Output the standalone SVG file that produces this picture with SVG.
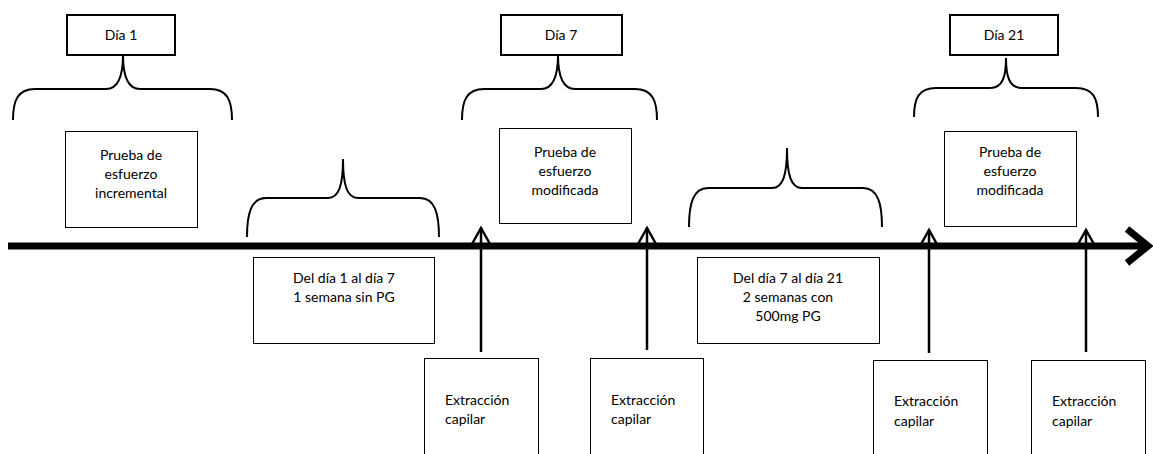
<svg xmlns="http://www.w3.org/2000/svg" width="1153" height="454" viewBox="0 0 1153 454">
<style>
.day{fill:#fff;stroke:#000;stroke-width:2}
.box{fill:#fff;stroke:#000;stroke-width:1}
.brace{fill:none;stroke:#000;stroke-width:2}
.t{font-family:Lato,"Liberation Sans",sans-serif;font-size:14px;fill:#000}
.c{text-anchor:middle}
.arr{fill:none;stroke:#000;stroke-width:2.5}
.tl{fill:none;stroke:#000;stroke-width:7}
</style>
<rect width="1153" height="454" fill="#fff"/>
<g id="connectors">
<line class="tl" x1="8" y1="246" x2="1146" y2="246"/>
<path class="tl" d="M1127,229 L1148,246 L1127,263" stroke-linejoin="miter"/>
<path class="brace" d="M13,120 C13,100 18,89 35,89 L106,89 C119,89 123,75 123,55 C123,75 127,89 140,89 L210,89 C227,89 232,100 232,120"/>
<path class="brace" d="M247,237 C247,214 251,198 266,198 L328,198 C339,198 343,185 343,159 C343,185 347,198 358,198 L420,198 C435,198 439,214 439,237"/>
<path class="brace" d="M462,120 C462,100 467,89 484,89 L541,89 C554,89 558,75 558,55 C558,75 562,89 575,89 L635,89 C652,89 657,100 657,120"/>
<path class="brace" d="M689,227 C689,204 693,188 708,188 L772,188 C783,188 787,175 787,148 C787,175 791,188 802,188 L863,188 C878,188 882,204 882,227"/>
<path class="brace" d="M914,117 C914,98 919,88 936,88 L990,88 C1003,88 1006,76 1006,58 C1006,76 1009,88 1022,88 L1076,88 C1093,88 1098,98 1098,117"/>
<line class="arr" x1="481" y1="352" x2="481" y2="228"/>
<path class="arr" d="M472,244 L481,228 L490,244"/>
<line class="arr" x1="647" y1="350" x2="647" y2="228"/>
<path class="arr" d="M638,244 L647,228 L656,244"/>
<line class="arr" x1="929" y1="353" x2="929" y2="230"/>
<path class="arr" d="M920,246 L929,230 L938,246"/>
<line class="arr" x1="1086" y1="352" x2="1086" y2="230"/>
<path class="arr" d="M1077,246 L1086,230 L1095,246"/>
</g>
<g id="dia1"><rect class="day" x="67" y="15" width="108" height="40"/><text class="t c" x="121" y="40">Día 1</text></g>
<g id="dia7"><rect class="day" x="501" y="15" width="121" height="40"/><text class="t c" x="561" y="40">Día 7</text></g>
<g id="dia21"><rect class="day" x="950" y="15" width="108" height="40"/><text class="t c" x="1004" y="40">Día 21</text></g>
<g id="prueba1"><rect class="box" x="65.500" y="131.500" width="132" height="96"/><text class="t c" x="131" y="160">Prueba de</text><text class="t c" x="131" y="179">esfuerzo</text><text class="t c" x="131" y="198">incremental</text></g>
<g id="prueba7"><rect class="box" x="499.500" y="128.500" width="132" height="95"/><text class="t c" x="565" y="157">Prueba de</text><text class="t c" x="565" y="176">esfuerzo</text><text class="t c" x="565" y="195">modificada</text></g>
<g id="prueba21"><rect class="box" x="944.500" y="131.500" width="132" height="95"/><text class="t c" x="1010" y="157">Prueba de</text><text class="t c" x="1010" y="176">esfuerzo</text><text class="t c" x="1010" y="195">modificada</text></g>
<g id="periodo1"><rect class="box" x="253.500" y="257.500" width="181" height="86"/><text class="t c" x="344" y="283">Del día 1 al día 7</text><text class="t c" x="344" y="302">1 semana sin PG</text></g>
<g id="periodo2"><rect class="box" x="697.500" y="257.500" width="182" height="86"/><text class="t c" x="788" y="283">Del día 7 al día 21</text><text class="t c" x="788" y="302">2 semanas con</text><text class="t c" x="788" y="321">500mg PG</text></g>
<g id="ext1"><rect class="box" x="424.500" y="358.500" width="114" height="100"/><text class="t" x="445" y="405">Extracción</text><text class="t" x="445" y="424">capilar</text></g>
<g id="ext2"><rect class="box" x="590.500" y="358.500" width="113" height="100"/><text class="t" x="611" y="405">Extracción</text><text class="t" x="611" y="424">capilar</text></g>
<g id="ext3"><rect class="box" x="873.500" y="360.500" width="114" height="100"/><text class="t" x="894" y="406">Extracción</text><text class="t" x="894" y="426">capilar</text></g>
<g id="ext4"><rect class="box" x="1031.500" y="360.500" width="114" height="100"/><text class="t" x="1052" y="406">Extracción</text><text class="t" x="1052" y="426">capilar</text></g>
</svg>
